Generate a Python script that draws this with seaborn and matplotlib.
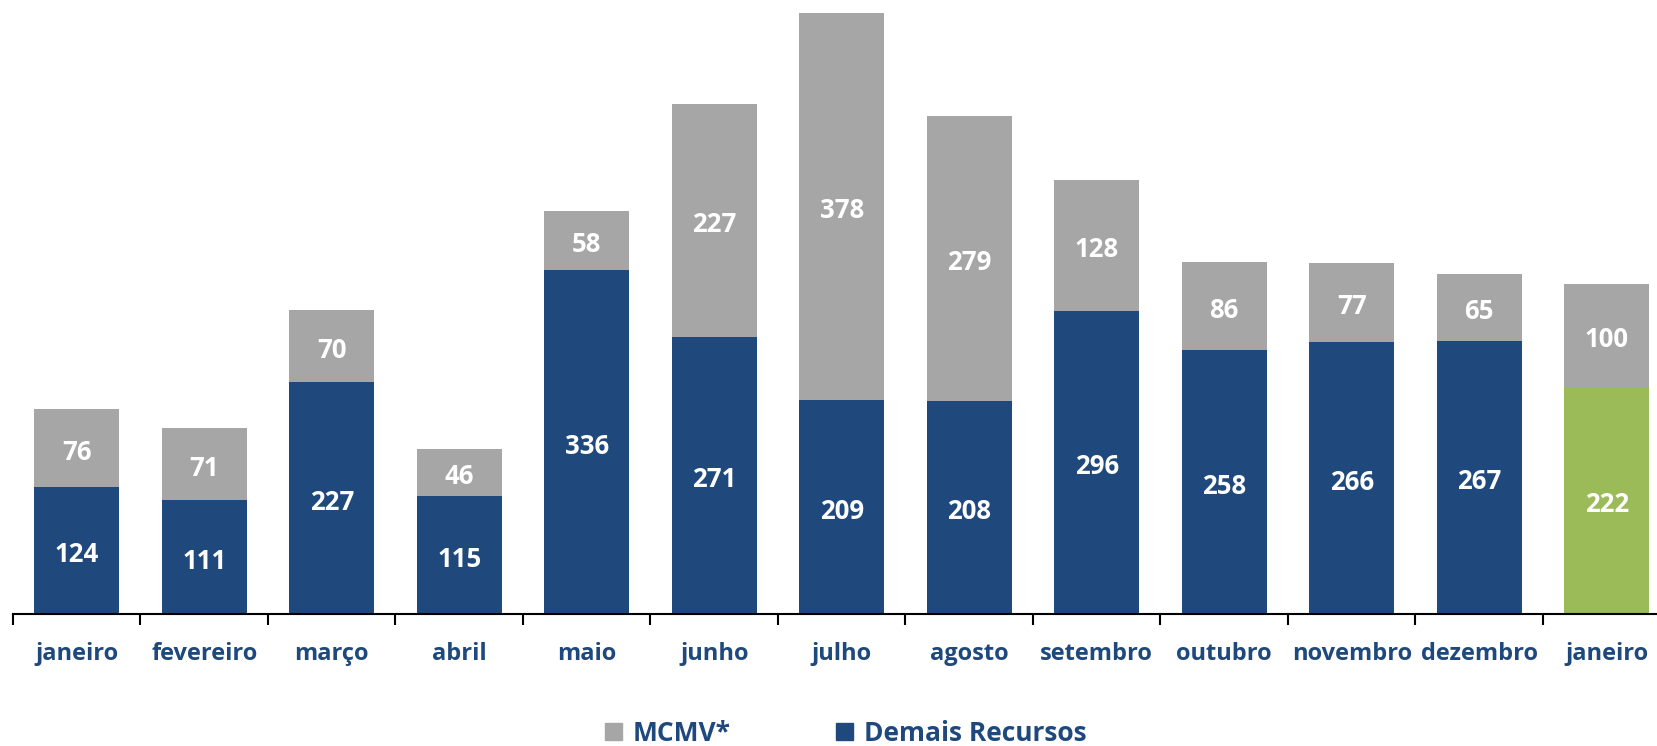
import numpy as np
import pandas as pd
import matplotlib.pyplot as plt
import matplotlib.patches as mpatches
import seaborn as sns

# monthly values
meses = ["janeiro", "fevereiro", "março", "abril", "maio", "junho", "julho",
         "agosto", "setembro", "outubro", "novembro", "dezembro", "janeiro"]
demais = [124, 111, 227, 115, 336, 271, 209, 208, 296, 258, 266, 267, 222]
mcmv = [76, 71, 70, 46, 58, 227, 378, 279, 128, 86, 77, 65, 100]

azul = "#1F497C"
cinza = "#A6A6A6"
verde = "#9BBB59"

df = pd.DataFrame({"pos": range(len(meses)), "mes": meses,
                   "demais": demais, "mcmv": mcmv})
df["total"] = df["demais"] + df["mcmv"]

sns.set_style("white")
plt.rcParams["font.family"] = ["Open Sans", "DejaVu Sans"]

slot = 127.5
fig = plt.figure(figsize=(16.58, 7.46), dpi=100)
ax = fig.add_axes([13 / 1658, (746 - 614) / 746, 13 * slot / 1658, 614 / 746])

sns.barplot(data=df, x="pos", y="total", color=cinza, width=0.67,
            saturation=1, linewidth=0, ax=ax)
cores = [azul] * (len(meses) - 1) + [verde]
sns.barplot(data=df, x="pos", y="demais", hue="pos", palette=cores,
            width=0.67, saturation=1, linewidth=0, legend=False, ax=ax)

# value labels inside the segments
for i, row in df.iterrows():
    ax.annotate(str(row["demais"]), (i, row["demais"] / 2), xytext=(0, -3),
                textcoords="offset points", ha="center", va="center",
                color="white", fontsize=18.5, fontweight="bold")
    ax.annotate(str(row["mcmv"]), (i, row["demais"] + row["mcmv"] / 2),
                xytext=(0, -3), textcoords="offset points", ha="center",
                va="center", color="white", fontsize=18.5, fontweight="bold")

ax.set_xlim(-0.5, len(meses) - 0.5)
ax.set_ylim(0, 600)
ax.set_yticks([])
ax.set_xlabel("")
ax.set_ylabel("")
for s in ["top", "right", "left"]:
    ax.spines[s].set_visible(False)
ax.spines["bottom"].set_color("black")
ax.spines["bottom"].set_linewidth(1.5)

ax.set_xticks(np.arange(len(meses) + 1) - 0.5)
ax.set_xticklabels([])
ax.tick_params(axis="x", which="major", length=8, width=1.5, color="black",
               direction="out", bottom=True)
ax.set_xticks(np.arange(len(meses)), minor=True)
ax.set_xticklabels(meses, minor=True)
ax.tick_params(axis="x", which="minor", length=0, pad=20, labelsize=17,
               labelcolor=azul)
for lbl in ax.get_xticklabels(minor=True):
    lbl.set_fontweight("bold")

handles = [mpatches.Patch(color=cinza, label="MCMV*"),
           mpatches.Patch(color=azul, label="Demais Recursos")]
leg = fig.legend(handles=handles, loc="center", bbox_to_anchor=(0.510, 0.017),
                 ncol=2, frameon=False, fontsize=19, handlelength=0.65,
                 handleheight=0.65, columnspacing=4.0, handletextpad=0.4)
for t in leg.get_texts():
    t.set_color(azul)
    t.set_fontweight("bold")

fig.savefig("out.png", dpi=100)
